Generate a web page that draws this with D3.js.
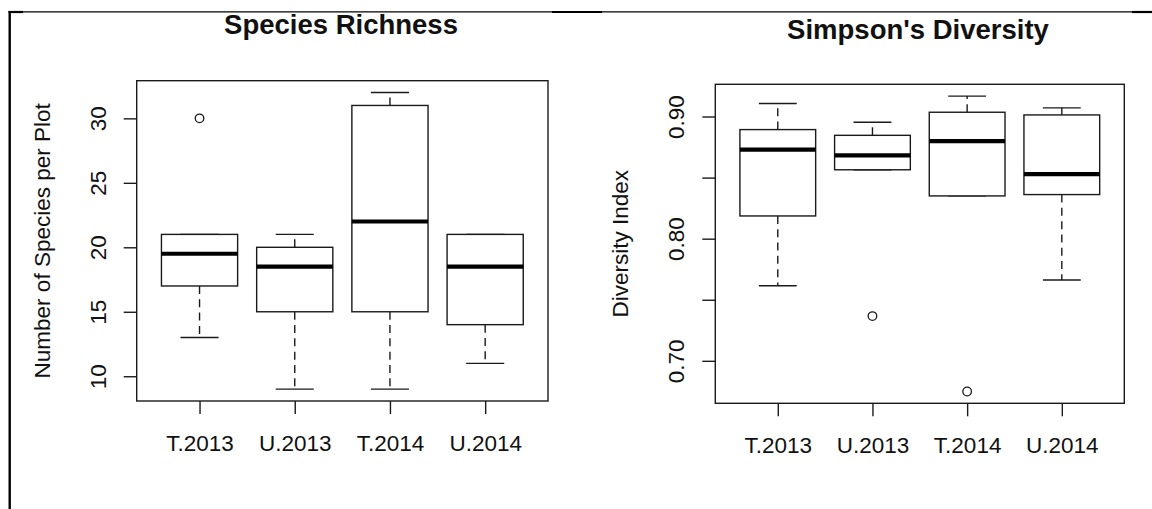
<!DOCTYPE html>
<html>
<head>
<meta charset="utf-8">
<script src="https://cdn.jsdelivr.net/npm/d3@7"></script>
<style>
  html, body { margin: 0; padding: 0; background: #fff; }
  svg { display: block; }
  text { font-family: "Liberation Sans", Arial, sans-serif; fill: #111; }
</style>
</head>
<body>
<svg id="chart" width="1152" height="509"></svg>
<script>
// ---- data ----
const categories = ["T.2013", "U.2013", "T.2014", "U.2014"];

// Species Richness (number of species per plot)
const richnessLow     = [13, 9, 9, 11];
const richnessQ1      = [17, 15, 15, 14];
const richnessMedian  = [19.5, 18.5, 22, 18.5];
const richnessQ3      = [21, 20, 31, 21];
const richnessHigh    = [21, 21, 32, 21];
const richnessOutliers = [["T.2013", 30]];
const richnessTicks   = [10, 15, 20, 25, 30];
const richnessTickLabels = ["10", "15", "20", "25", "30"];

// Simpson's Diversity
const diversityLow     = [0.7615, 0.8564, 0.835, 0.7662];
const diversityQ1      = [0.8186, 0.8564, 0.835, 0.8361];
const diversityMedian  = [0.8729, 0.8682, 0.8799, 0.8528];
const diversityQ3      = [0.8893, 0.8846, 0.9035, 0.9013];
const diversityHigh    = [0.9107, 0.8953, 0.9167, 0.9071];
const diversityOutliers = [["U.2013", 0.7366], ["T.2014", 0.6749]];
const diversityTicks   = [0.70, 0.75, 0.80, 0.85, 0.90];
const diversityTickLabels = ["0.70", "", "0.80", "", "0.90"];

// ---- drawing ----
const svg = d3.select("#chart");
const INK = "#1a1a1a";

// frame lines (document table border)
svg.append("line").attr("x1", 9).attr("x2", 1152).attr("y1", 11.8).attr("y2", 11.8)
  .attr("stroke", "#000").attr("stroke-width", 1.2);
[[8.5, 23], [552, 602], [1132, 1152]].forEach(s => {
  svg.append("line").attr("x1", s[0]).attr("x2", s[1]).attr("y1", 12).attr("y2", 12)
    .attr("stroke", "#000").attr("stroke-width", 2.2);
});
svg.append("line").attr("x1", 9.7).attr("x2", 9.7).attr("y1", 11).attr("y2", 509)
  .attr("stroke", "#000").attr("stroke-width", 2.4);

function panel(cfg) {
  const g = svg.append("g");
  const n = categories.length;
  // x: positions 1..n, R-style xlim [0.5, n+0.5] extended 4%
  const xr = n; // range n
  const x = d3.scaleLinear()
    .domain([0.5 - 0.04 * xr, n + 0.5 + 0.04 * xr])
    .range([cfg.left, cfg.right]);
  const allVals = cfg.low.concat(cfg.high, cfg.outliers.map(o => o[1]));
  const ext = d3.extent(allVals);
  const pad = (ext[1] - ext[0]) * 0.04;
  const y = d3.scaleLinear().domain([ext[0] - pad, ext[1] + pad]).range([cfg.bottom, cfg.top]);
  const pos = c => x(categories.indexOf(c) + 1);
  const halfBox = x(1.4) - x(1);
  const halfStaple = x(1.2) - x(1);

  const boxes = categories.map((c, i) => ({
    c, low: cfg.low[i], q1: cfg.q1[i], med: cfg.med[i], q3: cfg.q3[i], high: cfg.high[i]
  }));

  const bg = g.selectAll("g.box").data(boxes).enter().append("g").attr("class", "box");
  // whiskers (dashed)
  bg.append("line")
    .attr("x1", d => pos(d.c)).attr("x2", d => pos(d.c))
    .attr("y1", d => y(d.q1)).attr("y2", d => y(d.low))
    .attr("stroke", INK).attr("stroke-width", 1.4).attr("stroke-dasharray", "8,5.3");
  bg.append("line")
    .attr("x1", d => pos(d.c)).attr("x2", d => pos(d.c))
    .attr("y1", d => y(d.q3)).attr("y2", d => y(d.high))
    .attr("stroke", INK).attr("stroke-width", 1.4).attr("stroke-dasharray", "8,5.3");
  // staples
  bg.append("line")
    .attr("x1", d => pos(d.c) - halfStaple).attr("x2", d => pos(d.c) + halfStaple)
    .attr("y1", d => y(d.low)).attr("y2", d => y(d.low))
    .attr("stroke", INK).attr("stroke-width", 1.4);
  bg.append("line")
    .attr("x1", d => pos(d.c) - halfStaple).attr("x2", d => pos(d.c) + halfStaple)
    .attr("y1", d => y(d.high)).attr("y2", d => y(d.high))
    .attr("stroke", INK).attr("stroke-width", 1.4);
  // boxes
  bg.append("rect")
    .attr("x", d => pos(d.c) - halfBox).attr("width", 2 * halfBox)
    .attr("y", d => y(d.q3)).attr("height", d => y(d.q1) - y(d.q3))
    .attr("fill", "#fff").attr("stroke", INK).attr("stroke-width", 1.4);
  // medians
  bg.append("line")
    .attr("x1", d => pos(d.c) - halfBox).attr("x2", d => pos(d.c) + halfBox)
    .attr("y1", d => y(d.med)).attr("y2", d => y(d.med))
    .attr("stroke", "#000").attr("stroke-width", 4.2);
  // outliers
  g.selectAll("circle.out").data(cfg.outliers).enter().append("circle")
    .attr("cx", d => pos(d[0])).attr("cy", d => y(d[1])).attr("r", 4.3)
    .attr("fill", "none").attr("stroke", INK).attr("stroke-width", 1.3);

  // plot frame
  g.append("rect")
    .attr("x", cfg.left).attr("y", cfg.top)
    .attr("width", cfg.right - cfg.left).attr("height", cfg.bottom - cfg.top)
    .attr("fill", "none").attr("stroke", INK).attr("stroke-width", 1.4);

  // y axis
  const ya = g.append("g").attr("transform", `translate(${cfg.left},0)`)
    .call(d3.axisLeft(y).tickValues(cfg.ticks).tickSize(13)
      .tickFormat((d, i) => cfg.tickLabels[i]));
  ya.select(".domain").remove();
  ya.selectAll(".tick line").attr("stroke", INK).attr("stroke-width", 1.4);
  ya.selectAll(".tick text")
    .attr("x", null).attr("dy", null)
    .attr("transform", "translate(-31,0) rotate(-90)")
    .attr("text-anchor", "middle")
    .style("font-size", "22.5px").style("font-family", "'Liberation Sans', Arial, sans-serif")
    .attr("fill", "#111");

  // x axis
  const xa = g.append("g").attr("transform", `translate(0,${cfg.bottom})`)
    .call(d3.axisBottom(x).tickValues(categories.map((c, i) => i + 1)).tickSize(13)
      .tickFormat((d, i) => categories[i]));
  xa.select(".domain").remove();
  xa.selectAll(".tick line").attr("stroke", INK).attr("stroke-width", 1.4);
  xa.selectAll(".tick text")
    .attr("y", cfg.xLabelOffset).attr("dy", null)
    .style("font-size", "22.5px").style("font-family", "'Liberation Sans', Arial, sans-serif")
    .attr("fill", "#111");

  // y title
  g.append("text")
    .attr("transform", `translate(${cfg.left - 87},${(cfg.top + cfg.bottom) / 2}) rotate(-90)`)
    .attr("text-anchor", "middle")
    .style("font-size", "22.5px")
    .text(cfg.yTitle);

  // main title
  g.append("text")
    .attr("x", cfg.titleX).attr("y", cfg.titleY)
    .attr("text-anchor", "middle")
    .style("font-size", "27.5px").style("font-weight", "bold")
    .attr("fill", "#000")
    .text(cfg.title);
}

panel({
  left: 136.7, right: 548, top: 80.7, bottom: 401,
  low: richnessLow, q1: richnessQ1, med: richnessMedian, q3: richnessQ3, high: richnessHigh,
  outliers: richnessOutliers, ticks: richnessTicks, tickLabels: richnessTickLabels,
  yTitle: "Number of Species per Plot", title: "Species Richness",
  titleX: 341, titleY: 34, xLabelOffset: 50
});

panel({
  left: 715.3, right: 1124.3, top: 84.3, bottom: 403.3,
  low: diversityLow, q1: diversityQ1, med: diversityMedian, q3: diversityQ3, high: diversityHigh,
  outliers: diversityOutliers, ticks: diversityTicks, tickLabels: diversityTickLabels,
  yTitle: "Diversity Index", title: "Simpson's Diversity",
  titleX: 918, titleY: 38.5, xLabelOffset: 49.5
});
</script>
</body>
</html>
